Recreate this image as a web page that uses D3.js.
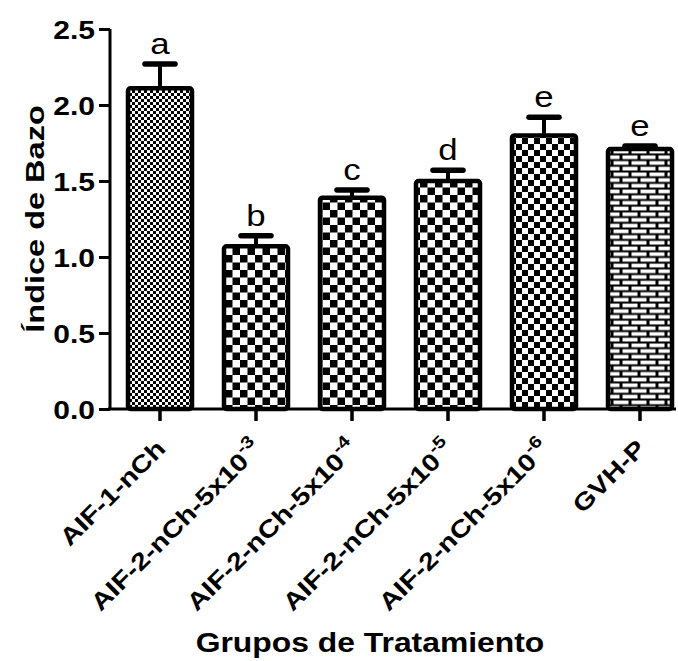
<!DOCTYPE html>
<html><head><meta charset="utf-8">
<script src="https://cdn.jsdelivr.net/npm/d3@7"></script>
<style>body{margin:0;background:#fff}svg{display:block}</style>
</head><body>
<svg id="c" width="678" height="661"></svg>
<script>
const categories = ["AIF-1-nCh","AIF-2-nCh-5x10","AIF-2-nCh-5x10","AIF-2-nCh-5x10","AIF-2-nCh-5x10","GVH-P"];
const superscripts = ["","-3","-4","-5","-6",""];
const means = [2.11, 1.07, 1.39, 1.50, 1.80, 1.71];
const errors = [0.16, 0.07, 0.05, 0.07, 0.12, 0.02];
const letters = ["a","b","c","d","e","e"];
const patterns = ["fine","check","check","check","check6","brick"];
const yTicks = [0.0, 0.5, 1.0, 1.5, 2.0, 2.5];

const svg = d3.select("#c");
const font = "'Liberation Sans', Arial, sans-serif";
const SX = 1.2;
const defs = svg.append("defs");
function checker(id, s){
  const p = defs.append("pattern").attr("id", id).attr("patternUnits","userSpaceOnUse")
    .attr("width", 2*s).attr("height", 2*s);
  p.append("rect").attr("width",2*s).attr("height",2*s).attr("fill","#fff");
  p.append("rect").attr("width",s).attr("height",s).attr("fill","#000");
  p.append("rect").attr("x",s).attr("y",s).attr("width",s).attr("height",s).attr("fill","#000");
}
checker("fine", 3);
checker("check", 7.5);
checker("check6", 6);
{
  const p = defs.append("pattern").attr("id","brick").attr("patternUnits","userSpaceOnUse")
    .attr("width", 18).attr("height", 11.4);
  p.append("rect").attr("width",18).attr("height",11.4).attr("fill","#000");
  p.append("rect").attr("x",1.5).attr("y",1.5).attr("width",15).attr("height",3.7).attr("fill","#fff");
  p.append("rect").attr("x",-7.5).attr("y",7.2).attr("width",15).attr("height",3.7).attr("fill","#fff");
  p.append("rect").attr("x",10.5).attr("y",7.2).attr("width",15).attr("height",3.7).attr("fill","#fff");
}

const x = d3.scaleBand().domain(d3.range(categories.length)).range([112, 688]).padding(0);
const y = d3.scaleLinear().domain([0, 2.5]).range([409, 29]);
const cx = i => x(i) + x.bandwidth()/2;
const bw = 64;

const g = svg.append("g");
g.selectAll("rect.bar").data(means).join("rect")
  .attr("x", (d,i) => cx(i) - bw/2)
  .attr("y", d => y(d))
  .attr("width", bw)
  .attr("height", d => y(0) - y(d))
  .attr("rx", 2.5)
  .attr("fill", (d,i) => `url(#${patterns[i]})`)
  .attr("stroke", "#000").attr("stroke-width", 4.5);
g.selectAll("line.err").data(means).join("line")
  .attr("x1", (d,i) => cx(i)).attr("x2", (d,i) => cx(i))
  .attr("y1", d => y(d)).attr("y2", (d,i) => y(d + errors[i]))
  .attr("stroke","#000").attr("stroke-width",4);
g.selectAll("line.cap").data(means).join("line")
  .attr("x1", (d,i) => cx(i) - 15).attr("x2", (d,i) => cx(i) + 15)
  .attr("y1", (d,i) => y(d + errors[i])).attr("y2", (d,i) => y(d + errors[i]))
  .attr("stroke","#000").attr("stroke-width",5.5).attr("stroke-linecap","round");
g.selectAll("text.lab").data(means).join("text")
  .attr("transform", (d,i) => `translate(${cx(i)},${y(d + errors[i]) - 10}) scale(${SX},1)`)
  .attr("text-anchor","middle").attr("font-family", font).attr("font-size", 29)
  .text((d,i) => letters[i]);

// y axis
const yAxis = svg.append("g").attr("transform","translate(110,0)")
  .call(d3.axisLeft(y).tickValues(yTicks).tickFormat("").tickSize(11));
yAxis.select(".domain").attr("stroke-width",3).attr("d","M0,29V409");
yAxis.selectAll(".tick line").attr("stroke-width",3);
yAxis.selectAll(".tick").append("text")
  .attr("transform", `translate(-15,0) scale(${SX},1)`)
  .attr("dy","0.36em").attr("text-anchor","end")
  .attr("font-family",font).attr("font-weight","bold").attr("font-size",25).attr("fill","#000")
  .text(d => d3.format(".1f")(d));

// x axis
const xAxis = svg.append("g").attr("transform","translate(0,409)")
  .call(d3.axisBottom(x).tickSize(12).tickFormat(""));
xAxis.select(".domain").attr("stroke-width",3).attr("d","M108,0H676");
xAxis.selectAll(".tick line").attr("stroke-width",3.5);

// x labels
const xl = svg.append("g");
categories.forEach((c,i) => {
  const t = xl.append("text")
    .attr("transform", `translate(${cx(i)+7},450) rotate(-45) scale(${SX},1)`)
    .attr("text-anchor","end").attr("font-family",font).attr("font-weight","bold").attr("font-size",24);
  t.append("tspan").text(c);
  if (superscripts[i]) t.append("tspan").attr("font-size",17).attr("dy",-11).text(superscripts[i]);
});

// titles
svg.append("text").attr("transform",`translate(44,219) rotate(-90) scale(1.25,1)`)
  .attr("text-anchor","middle").attr("font-family",font).attr("font-weight","bold").attr("font-size",26)
  .text("Índice de Bazo");
svg.append("text").attr("transform",`translate(370,652) scale(1.18,1)`)
  .attr("text-anchor","middle").attr("font-family",font).attr("font-weight","bold").attr("font-size",27)
  .text("Grupos de Tratamiento");
</script>
</body></html>
